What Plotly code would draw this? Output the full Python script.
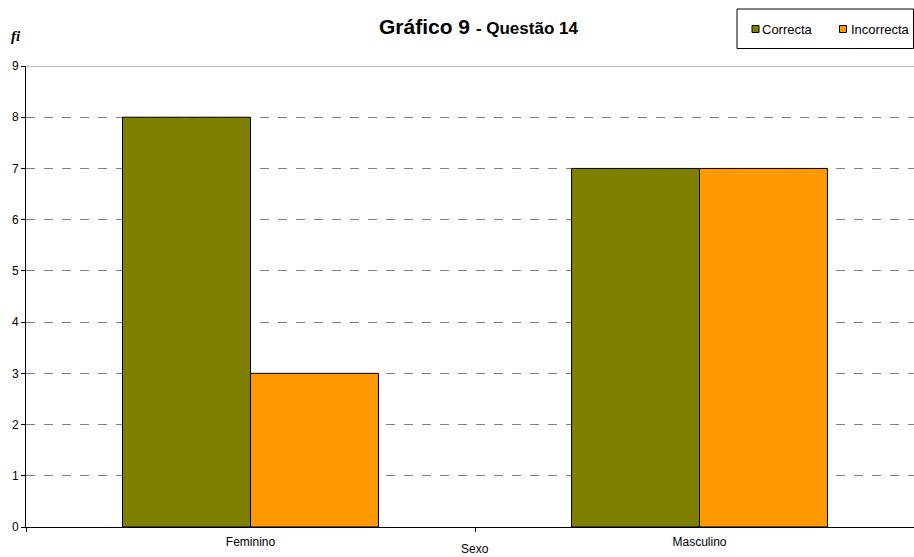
import plotly.graph_objects as go

categories = ["Feminino", "Masculino"]
series_names = ["Correcta", "Incorrecta"]
correcta = [8, 7]
incorrecta = [3, 7]
y_ticks = list(range(0, 10))
colors = ["#808000", "#FF9900"]

fig = go.Figure()
for name, vals, col in zip(series_names, [correcta, incorrecta], colors):
    fig.add_trace(go.Bar(name=name, x=categories, y=vals, showlegend=False,
                         marker=dict(color=col, line=dict(color="black", width=1))))

W, H = 914, 557
ml, mr, mt, mb = 26, 0, 66, 30
PW, PH = W - ml - mr, H - mt - mb


def px(x):
    return (x - ml) / PW


def py(y):
    return 1 - (y - mt) / PH


fig.update_layout(
    width=W, height=H,
    margin=dict(l=ml, r=mr, t=mt, b=mb, autoexpand=False),
    paper_bgcolor="white", plot_bgcolor="white",
    barmode="group", bargap=0.43, bargroupgap=0,
    font=dict(family="Liberation Sans, Arial, sans-serif", size=12, color="black"),
    showlegend=False,
    xaxis=dict(range=[-0.5, -0.5 + PW / 449], showgrid=False, showline=True,
               linecolor="black", linewidth=1, ticks="outside", tickson="boundaries",
               ticklen=4, tickcolor="black", tickfont=dict(size=12),
               ticklabelstandoff=4, automargin=False),
    yaxis=dict(range=[0, 9], tickvals=y_ticks, showgrid=True, gridcolor="#808080",
               griddash="dash", gridwidth=1, showline=True, linecolor="black",
               linewidth=1, ticks="outside", ticklen=4, tickcolor="black",
               tickfont=dict(size=12), zeroline=False, automargin=False),
)

fig.add_shape(type="line", xref="paper", yref="y", x0=0, x1=1, y0=9, y1=9,
              line=dict(color="#808080", width=1))

# Title
fig.add_annotation(text="<b>Gráfico 9 </b><b><span style='font-size:17px'>- Questão 14</span></b>",
                   xref="paper", yref="paper", x=px(478), y=py(27),
                   xanchor="center", yanchor="middle", showarrow=False,
                   font=dict(size=21, family="Liberation Sans, Arial, sans-serif"))
# y label
fig.add_annotation(text="<b><i>fi</i></b>", xref="paper", yref="paper",
                   x=px(9), y=py(36), xanchor="left", yanchor="middle", showarrow=False,
                   font=dict(size=15, family="Liberation Serif, Times New Roman, serif"))
# x title
fig.add_annotation(text="Sexo", xref="paper", yref="paper", x=px(475), y=py(549),
                   xanchor="center", yanchor="middle", showarrow=False, font=dict(size=12))

# Legend box
fig.add_shape(type="rect", xref="paper", yref="paper", x0=px(737), x1=px(913.5),
              y0=py(48.5), y1=py(9), line=dict(color="black", width=1), fillcolor="white")
leg_sq_x = [752, 839.5]
leg_tx_x = [760, 849]
for name, col, sx, tx in zip(series_names, colors, leg_sq_x, leg_tx_x):
    fig.add_shape(type="rect", xref="paper", yref="paper", x0=px(sx), x1=px(sx + 7),
                  y0=py(32.5), y1=py(25.5), line=dict(color="black", width=1), fillcolor=col)
    fig.add_annotation(text=name, xref="paper", yref="paper", x=px(tx), y=py(29),
                       xanchor="left", yanchor="middle", showarrow=False,
                       font=dict(size=13))

fig.write_html("out.html", config={"displayModeBar": False},
               post_script="document.body.style.margin='0px';")
